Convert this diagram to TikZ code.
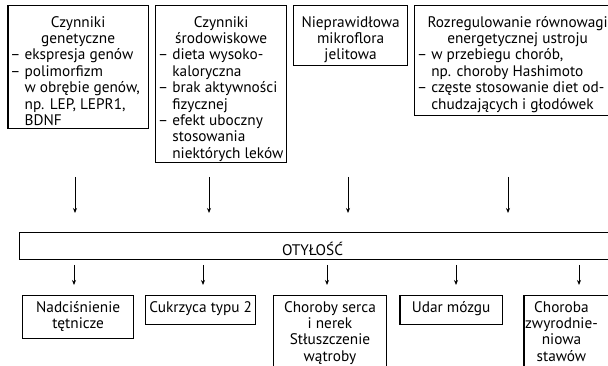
\documentclass[tikz,border=0pt]{standalone}
\usepackage{fontspec}
\setmainfont{PT Sans}
\usetikzlibrary{arrows.meta}
\newcommand{\ind}{\mbox{\phantom{– }}}
% #1 text width, #2 total height, #3 gap above first line, #4 text
\newcommand{\btext}[4]{\parbox[t][#2][t]{#1}{\vspace*{#3}\rule{0pt}{12.5pt}#4}}
\begin{document}
\begin{tikzpicture}[x=1pt,y=-1pt,
  box/.style={draw, line width=1.3pt, inner xsep=2.5pt, inner ysep=0pt,
    font=\fontsize{15.3}{16.4}\selectfont, anchor=north west},
  arr/.style={line width=0.9pt, -{Stealth[length=5pt,width=4pt]}}]
\useasboundingbox (0,0) rectangle (608,366);
\clip (0,0) rectangle (608,366);
% top boxes
\node[box] (gen) at (7.3,5)
  {\btext{135.4pt}{123pt}{9pt}{{\centering Czynniki\\genetyczne\par}\raggedright – ekspresja genów\\– polimorfizm\\\ind w obrębie genów,\\\ind np. LEP, LEPR1,\\\ind BDNF}};
\node[box] (env) at (155,5)
  {\btext{126pt}{157pt}{9pt}{{\centering Czynniki\\środowiskowe\par}\raggedright – dieta wysoko-\\\ind kaloryczna\\– brak aktywności\\\ind fizycznej\\– efekt uboczny\\\ind stosowania\\\ind niektórych leków}};
\node[box] (micro) at (293,5)
  {\btext{109pt}{60pt}{9pt}{\centering Nieprawidłowa\\mikroflora\\jelitowa}};
\node[box] (energy) at (414,5)
  {\btext{201pt}{110pt}{9pt}{{\centering Rozregulowanie równowagi\\energetycznej ustroju\par}\raggedright – w przebiegu chorób,\\\ind np. choroby Hashimoto\\– częste stosowanie diet od-\\\ind chudzających i głodówek}};
% central box
\node[box] (oty) at (19,232)
  {\btext{586pt}{27pt}{9.5pt}{\centering\hspace*{-5pt}OTYŁOŚĆ}};
% bottom boxes
\node[box] (nad) at (22,294.5)
  {\btext{106pt}{43.5pt}{4.5pt}{\centering Nadciśnienie\\tętnicze}};
\node[box] (cuk) at (145,294.5)
  {\btext{105pt}{29pt}{4.5pt}{\centering Cukrzyca typu 2}};
\node[box] (serce) at (272.7,294.5)
  {\btext{108.3pt}{80pt}{4.5pt}{\centering Choroby serca\\i nerek\\Stłuszczenie\\wątroby}};
\node[box] (udar) at (399.3,294.5)
  {\btext{97.4pt}{29pt}{4.5pt}{\centering Udar mózgu}};
\node[box] (staw) at (523.3,294.5)
  {\btext{84pt}{80pt}{4.5pt}{\raggedright\makebox[70pt]{Choroba}\\\makebox[70pt]{zwyrodnie-}\\\makebox[70pt]{niowa}\\\makebox[70pt]{stawów}}};
% arrow end points
\coordinate (t1s) at (75,177);  \coordinate (t1e) at (75,213);
\coordinate (t2s) at (209,177); \coordinate (t2e) at (209,213);
\coordinate (t3s) at (348,177); \coordinate (t3e) at (348,213);
\coordinate (t4s) at (508,177); \coordinate (t4e) at (508,213);
\coordinate (b1s) at (74,265);  \coordinate (b1e) at (74,285);
\coordinate (b2s) at (203,265); \coordinate (b2e) at (203,285);
\coordinate (b3s) at (327,265); \coordinate (b3e) at (327,285);
\coordinate (b4s) at (456,265); \coordinate (b4e) at (456,285);
\coordinate (b5s) at (579,265); \coordinate (b5e) at (579,285);
\foreach \a in {t1,t2,t3,t4,b1,b2,b3,b4,b5}
  \draw[arr] (\a s) -- (\a e);
\end{tikzpicture}
\end{document}
